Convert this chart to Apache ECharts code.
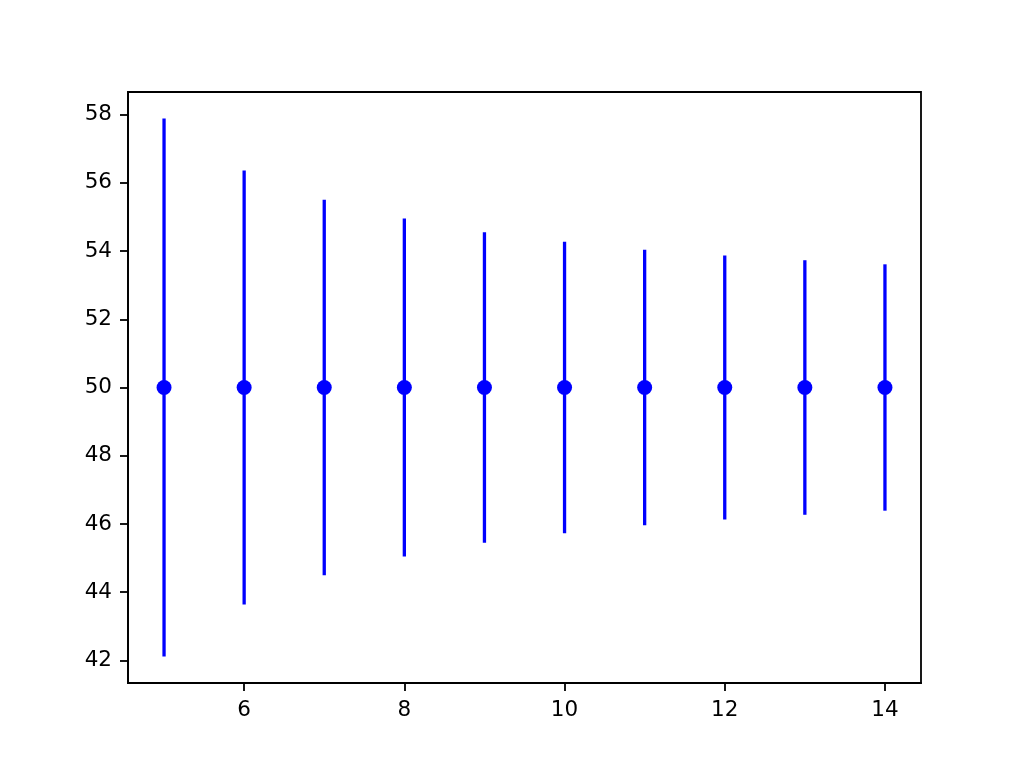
<!DOCTYPE html>
<html>
<head>
    <meta charset="utf-8">
    <title>ECharts</title>
    <script src="https://cdn.jsdelivr.net/npm/echarts@6/dist/echarts.min.js"></script>
    <style>
      html, body { margin: 0; padding: 0; background: #fff; }
    </style>
</head>
<body>
    <div id="main" style="width: 1024px;height:768px;"></div>
    <script type="text/javascript">
      // data
      var xs = [5, 6, 7, 8, 9, 10, 11, 12, 13, 14];
      var means = [50, 50, 50, 50, 50, 50, 50, 50, 50, 50];
      var errs = [7.88, 6.36, 5.5, 4.95, 4.55, 4.27, 4.04, 3.87, 3.73, 3.61];
      var xTicks = [6, 8, 10, 12, 14];
      var yTicks = [42, 44, 46, 48, 50, 52, 54, 56, 58];

      var points = xs.map(function (x, i) { return [x, means[i]]; });
      var bars = xs.map(function (x, i) { return [x, means[i] - errs[i], means[i] + errs[i]]; });

      var myChart = echarts.init(document.getElementById('main'));
      var font = 'DejaVu Sans';

      option = {
        animation: false,
        grid: {
          left: 128, right: 103, top: 92, bottom: 85,
          show: true, borderColor: '#000', borderWidth: 1.8, backgroundColor: 'transparent'
        },
        xAxis: {
          type: 'value',
          min: 4.55,
          max: 14.45,
          splitLine: { show: false },
          axisLine: { show: true, onZero: false, lineStyle: { color: '#000', width: 1.8 } },
          axisTick: { show: true, length: 8, lineStyle: { color: '#000', width: 1.8 }, customValues: xTicks },
          axisLabel: { color: '#000', fontFamily: font, fontSize: 21.5, margin: 16, customValues: xTicks }
        },
        yAxis: {
          type: 'value',
          min: 41.34,
          max: 58.66,
          splitLine: { show: false },
          axisLine: { show: true, onZero: false, lineStyle: { color: '#000', width: 1.8 } },
          axisTick: { show: true, length: 8, lineStyle: { color: '#000', width: 1.8 }, customValues: yTicks },
          axisLabel: { color: '#000', fontFamily: font, fontSize: 21.5, margin: 16, customValues: yTicks }
        },
        series: [{
          type: 'custom',
          data: bars,
          renderItem: function (params, api) {
            var lo = api.coord([api.value(0), api.value(1)]);
            var hi = api.coord([api.value(0), api.value(2)]);
            return {
              type: 'line',
              shape: { x1: lo[0], y1: lo[1], x2: hi[0], y2: hi[1] },
              style: { stroke: '#0000ff', lineWidth: 3.3 }
            };
          },
          z: 2
        },
        {
          type: 'scatter',
          data: points,
          symbol: 'circle',
          symbolSize: 15,
          itemStyle: { color: '#0000ff', opacity: 1 },
          z: 3
        }]
      };
      myChart.setOption(option);
    </script>
</body>
</html>
